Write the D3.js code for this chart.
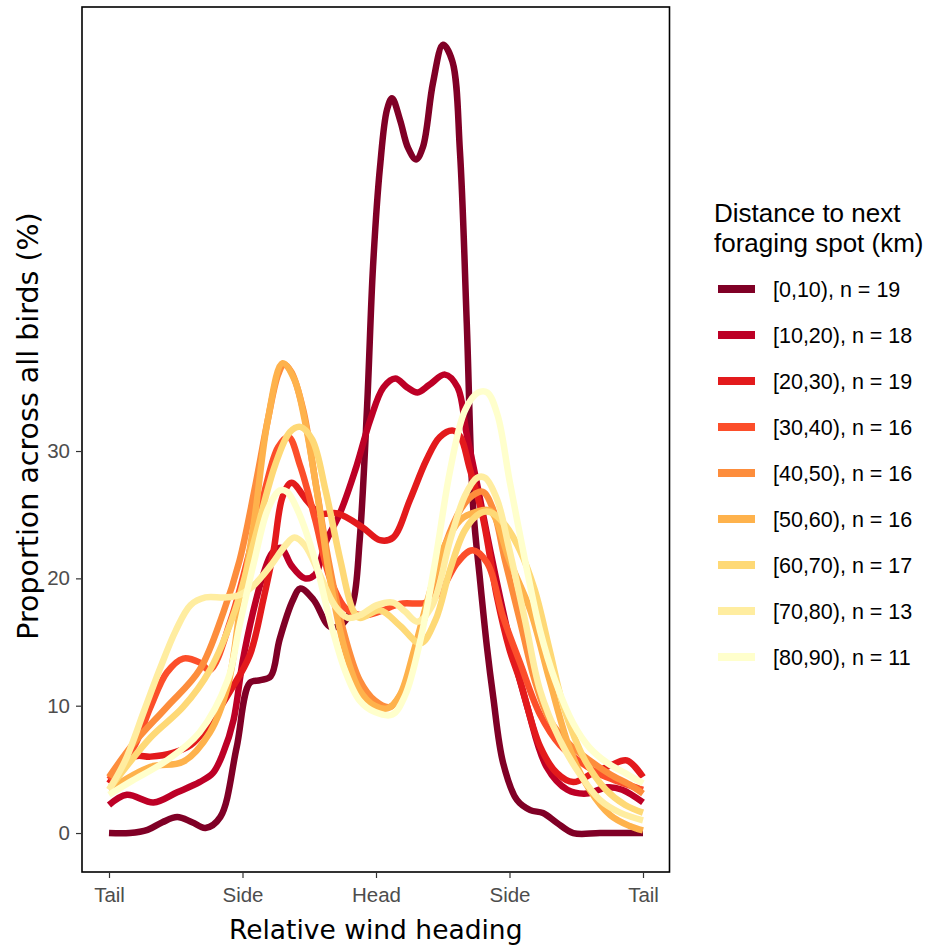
<!DOCTYPE html>
<html>
<head>
<meta charset="utf-8">
<script src="https://cdn.jsdelivr.net/npm/d3@7"></script>
<style>
  body { margin: 0; background: #fff; }
  svg { display: block; }
</style>
</head>
<body>
<svg id="chart" width="933" height="946"></svg>
<script>
// ---------- data (heading in degrees: -180 Tail, -90 Side, 0 Head, 90 Side, 180 Tail; value in %) ----------
const categories = ["[0,10), n = 19", "[10,20), n = 18", "[20,30), n = 19", "[30,40), n = 16",
  "[40,50), n = 16", "[50,60), n = 16", "[60,70), n = 17", "[70,80), n = 13", "[80,90), n = 11"];
const colors = ["#800026", "#bd0026", "#e31a1c", "#fc4e2a", "#fd8d3c", "#feb24c", "#fed976", "#ffeda0", "#ffffcc"];
const xTickValues = [-180, -90, 0, 90, 180];
const xTickLabels = ["Tail", "Side", "Head", "Side", "Tail"];
const yTickValues = [0, 10, 20, 30];

const d0_10 = [[-180,0],[-166,0],[-154,0.25],[-144,0.85],[-134,1.25],[-124,0.85],[-115,0.4],[-105,1.25],[-94,6.7],[-85,11.8],[-78,12.0],[-71,12.3],[-65,15.2],[-56,18.3],[-51,19.2],[-42,18.3],[-31,16.2],[-22,16.5],[-15.5,18.1],[-11,23],[-6,33.5],[-2,44.5],[2.7,52.3],[7.4,56.8],[10.8,57.7],[16.2,56],[21.6,53.8],[27,52.9],[31.7,53.9],[38.4,58.9],[45.2,61.9],[51.5,60.6],[56.6,53.5],[61.2,40],[65.5,25.6],[70.1,19.9],[74.8,14.6],[79,10.7],[85.7,5.5],[95,2.6],[104,1.8],[112.6,1.57],[122,0.8],[133,0],[151,0],[180,0]];
const d10_20 = [[-180,2.2],[-168,3.0],[-150,2.4],[-134,3.2],[-119,4.0],[-110,4.7],[-103,6.3],[-96,8.9],[-90,13.4],[-83,17.3],[-76,20.3],[-70,22.0],[-64,22.4],[-57,21.0],[-48,20.0],[-41,20.3],[-34,22.8],[-24,25.2],[-14,28.5],[-4,32.4],[5,35],[13,35.7],[21,35],[28,34.6],[36,35.2],[46.5,36],[55,35],[61,31.4],[68,27.5],[77,22.2],[90,15.2],[102,9.9],[115,5.2],[129,3.4],[142,3.1],[156,3.6],[166,3.4],[180,2.4]];
const d20_30 = [[-180,3.9],[-163,6.0],[-152,6.0],[-137,6.3],[-125,6.9],[-114,8.3],[-98,11.2],[-85,14],[-76,18.3],[-69,22.2],[-63,26.4],[-57,27.5],[-46.5,26.1],[-38,25.1],[-26,25.1],[-9,24],[2.7,23],[11.5,23.2],[23,26.2],[34,29.3],[43,31.1],[52,31.6],[57,31.1],[63,28.7],[72,24.8],[81.6,18.5],[90,14.4],[97,12],[110.6,6.8],[122,4.7],[133,4.0],[146,4.7],[158,5.3],[169,5.7],[180,4.4]];
const d30_40 = [[-180,4.2],[-163,6.8],[-152,9.9],[-141,12.6],[-130,13.7],[-119,13.4],[-112,12.8],[-98,16.7],[-85,22.2],[-75,26.9],[-66,30.3],[-59,31.1],[-51,28.8],[-41,24.6],[-31,20],[-20,17.6],[-9,17.1],[2.7,17.4],[16,18],[34,18.1],[43,18.9],[54.6,21.2],[65,22.2],[75,21.2],[85.6,17],[97,13.4],[110.6,9.3],[124,6.9],[137.5,5.6],[151,4.6],[164.5,4.0],[180,3.4]];
const d40_50 = [[-180,4.4],[-163,7.1],[-141,9.9],[-119,12.8],[-103,17.3],[-92,21.4],[-82,26.9],[-73,32.4],[-66,36],[-62,36.8],[-57,36.2],[-49,33.2],[-41,27.7],[-32,21.4],[-22,15.9],[-11,12],[-0.7,10.4],[9.4,9.9],[18,11.2],[26,14],[36,18.3],[46.5,22.6],[57,25.4],[65,26.5],[72,26.8],[79,25.4],[87,21.4],[97,16.7],[107,12],[117,8.9],[131,6.9],[144,5.7],[158,4.6],[171,3.8],[180,3.1]];
const d50_60 = [[-180,3.4],[-152,5.2],[-130,5.6],[-112,7.9],[-100,11.5],[-92,17.3],[-82,24.6],[-73,32.4],[-63,36.9],[-55,35.6],[-48,32.4],[-39,26.2],[-31,19.9],[-21,14.4],[-11,11.2],[-1,10],[8,9.8],[16,10.8],[26,14.5],[36,18.8],[46,22.5],[57,24.6],[67,25.2],[77,25.3],[90,21.4],[104,17.5],[117,12],[131,6.5],[144,3.4],[158,1.4],[171,0.55],[180,0.2]];
const d60_70 = [[-179,3.6],[-152,7.5],[-130,9.9],[-112,12.8],[-95,17.5],[-82,23],[-68,28.9],[-58,31.5],[-51,31.9],[-43,30.9],[-34,26.9],[-24,21.4],[-15.5,17.5],[-11,16.9],[2.7,17.5],[16,16.3],[30,14.9],[40,16.7],[50,20.7],[60,23.8],[70,25.1],[77,25.2],[87,24.2],[97,22.2],[107,19.1],[117,14.4],[127,9.7],[141,5.7],[155,3.4],[168,2.2],[180,1.6]];
const d70_80 = [[-180,3.4],[-169,5.7],[-156,9.7],[-146,12.8],[-135,15.9],[-125,17.9],[-115,18.5],[-102,18.5],[-92,18.7],[-82,19.5],[-71,21],[-61,22.6],[-55,23.2],[-48,22.6],[-38,20.3],[-28,17.9],[-19,16.9],[-11,17.1],[0.7,17.9],[11.5,18.1],[19.6,17.4],[28,16.6],[38,17.9],[50,23],[60,26.5],[68,27.9],[73.5,27.9],[81.6,26.2],[90,22.2],[100.5,16.7],[110.6,11.2],[124,7.3],[137.5,4.6],[151,2.6],[164.5,1.6],[180,1.0]];
const d80_90 = [[-180,3],[-166,4],[-141,5.7],[-119,7.9],[-100,12],[-92,16.3],[-82,21.4],[-73,25.4],[-65,26.9],[-60,26.8],[-53,25.4],[-41,21.4],[-31,16.7],[-21,12.8],[-11,10.4],[-0.7,9.5],[11,9.3],[19.6,10.8],[30,15.2],[40,21.4],[50,28.5],[60,33.2],[69,34.6],[75,34.6],[82,32.8],[90,27.7],[100.5,21.4],[110.6,15.9],[120.7,12],[133,8.6],[144,6.7],[156,5.5],[168,4.7],[180,3.9]];
const seriesValues = [d0_10, d10_20, d20_30, d30_40, d40_50, d50_60, d60_70, d70_80, d80_90];

// ---------- layout ----------
const svg = d3.select("#chart");
const panel = { left: 82, right: 669.5, top: 7, bottom: 872 };

const x = d3.scaleLinear().domain([-198, 198]).range([82.3, 669.7]);
const y = d3.scaleLinear().domain([-3.06, 64.87]).range([panel.bottom, panel.top]);

// lines
const line = d3.line()
  .x(d => x(d[0]))
  .y(d => y(d[1]))
  .curve(d3.curveCatmullRom.alpha(0.5));

svg.append("defs").append("clipPath").attr("id", "clip")
  .append("rect").attr("x", panel.left).attr("y", panel.top)
  .attr("width", panel.right - panel.left).attr("height", panel.bottom - panel.top);

svg.append("g").attr("clip-path", "url(#clip)")
  .selectAll("path")
  .data(seriesValues)
  .join("path")
  .attr("d", d => line(d))
  .attr("fill", "none")
  .attr("stroke", (d, i) => colors[i])
  .attr("stroke-width", 6.5)
  .attr("stroke-linejoin", "round")
  .attr("stroke-linecap", "butt");

// panel border
svg.append("rect")
  .attr("x", panel.left).attr("y", panel.top)
  .attr("width", panel.right - panel.left).attr("height", panel.bottom - panel.top)
  .attr("fill", "none").attr("stroke", "#000").attr("stroke-width", 1.6);

// x axis
const xAxis = d3.axisBottom(x)
  .tickValues(xTickValues)
  .tickFormat((d, i) => xTickLabels[i])
  .tickSize(6)
  .tickPadding(9);
const gx = svg.append("g").attr("transform", `translate(0,${panel.bottom})`).call(xAxis);
gx.select(".domain").remove();
gx.selectAll(".tick line").attr("stroke", "#333").attr("stroke-width", 1.2);
gx.selectAll(".tick text")
  .attr("fill", "#4d4d4d")
  .style("font-family", "'Liberation Sans', Arial, sans-serif")
  .style("font-size", "20.5px");

// y axis
const yAxis = d3.axisLeft(y)
  .tickValues(yTickValues)
  .tickSize(6)
  .tickPadding(6);
const gy = svg.append("g").attr("transform", `translate(${panel.left},0)`).call(yAxis);
gy.select(".domain").remove();
gy.selectAll(".tick line").attr("stroke", "#333").attr("stroke-width", 1.2);
gy.selectAll(".tick text")
  .attr("fill", "#4d4d4d")
  .style("font-family", "'Liberation Sans', Arial, sans-serif")
  .style("font-size", "20.5px");

// axis titles
svg.append("text")
  .attr("x", (panel.left + panel.right) / 2).attr("y", 939)
  .attr("text-anchor", "middle")
  .style("font-family", "'DejaVu Sans', sans-serif")
  .style("font-size", "26.5px")
  .attr("fill", "#000")
  .text("Relative wind heading");

svg.append("text")
  .attr("transform", `translate(38,426) rotate(-90)`)
  .attr("text-anchor", "middle")
  .style("font-family", "'DejaVu Sans', sans-serif")
  .style("font-size", "28.5px")
  .attr("fill", "#000")
  .text("Proportion across all birds (%)");

// legend
const legend = svg.append("g");
legend.append("text")
  .attr("x", 714).attr("y", 222)
  .style("font-family", "'Liberation Sans', Arial, sans-serif")
  .style("font-size", "26px")
  .attr("fill", "#000")
  .selectAll("tspan")
  .data(["Distance to next", "foraging spot (km)"])
  .join("tspan")
  .attr("x", 714)
  .attr("dy", (d, i) => i === 0 ? 0 : 30)
  .text(d => d);

const items = legend.selectAll("g.item")
  .data(categories)
  .join("g")
  .attr("class", "item")
  .attr("transform", (d, i) => `translate(0,${289 + i * 46})`);
items.append("line")
  .attr("x1", 718).attr("x2", 755)
  .attr("y1", 0).attr("y2", 0)
  .attr("stroke", (d, i) => colors[i])
  .attr("stroke-width", 8);
items.append("text")
  .attr("x", 773).attr("y", 0).attr("dy", "0.36em")
  .style("font-family", "'Liberation Sans', Arial, sans-serif")
  .style("font-size", "21.5px")
  .attr("fill", "#000")
  .text(d => d);
</script>
</body>
</html>
